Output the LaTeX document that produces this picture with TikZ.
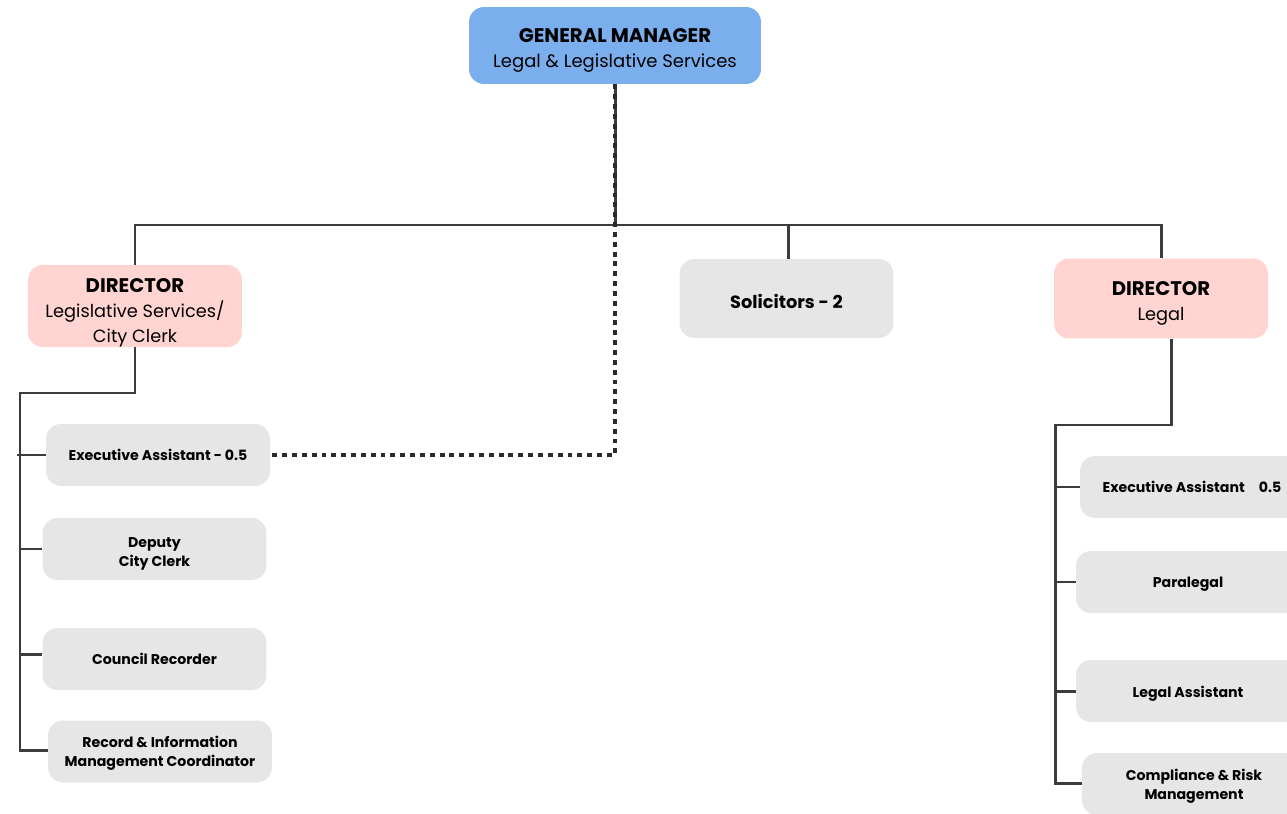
\documentclass[tikz,border=0pt]{standalone}
\usepackage{fontspec}
\setmainfont{Poppins}
\definecolor{gmblue}{HTML}{7BAEEC}
\definecolor{dirpink}{HTML}{FFD4D1}
\definecolor{staffgray}{HTML}{E6E6E6}
\definecolor{wiregray}{HTML}{3C3C3C}
% strut that pushes a label down inside its box
\newcommand{\dropby}[1]{\rule{0pt}{#1}}
\newcommand{\headline}[1]{{\fontsize{11.2}{14.2}\selectfont\bfseries #1}}

\begin{document}
\begin{tikzpicture}[x=0.02cm,y=-0.02cm,
  every node/.style={inner sep=0pt,align=center,text=black},
  box/.style={rounded corners=0.3cm},
  gmbox/.style={box,fill=gmblue,minimum width=5.84cm,minimum height=1.54cm,
    font=\fontsize{10.25}{14.2}\selectfont},
  dirbox/.style={box,fill=dirpink,minimum width=4.28cm,minimum height=1.6cm,
    font=\fontsize{10.1}{14.2}\selectfont},
  solbox/.style={box,fill=staffgray,minimum width=4.28cm,minimum height=1.58cm,
    font=\fontsize{10.1}{14.2}\selectfont\bfseries},
  staffbox/.style={box,fill=staffgray,minimum width=4.48cm,minimum height=1.24cm,
    font=\fontsize{8.05}{10.8}\selectfont\bfseries},
  wire/.style={draw=wiregray,line width=1.7pt},
  dotwire/.style={draw=wiregray!70!black,line width=1.9pt,dash pattern=on 2.8pt off 2.8pt}]
  \useasboundingbox (0,0) rectangle (1287,814);
  \clip (0,0) rectangle (1287,814);

  % top
  \node[gmbox] (gm) at (615,45.5) {\dropby{14pt}\headline{GENERAL MANAGER}\\Legal \& Legislative Services};

  % second row
  \node[dirbox] (dirls) at (135,306) {\dropby{15.8pt}\headline{DIRECTOR}\\Legislative Services/\\City Clerk};
  \node[solbox] (sol) at (786.5,298.5) {\dropby{10.9pt}Solicitors - 2};
  \node[dirbox] (dirlg) at (1161,298.5) {\dropby{13.4pt}\headline{DIRECTOR}\\Legal};

  % legislative services staff
  \node[staffbox] (ea1) at (158,455) {Executive Assistant - 0.5};
  \node[staffbox] (dcc) at (154.5,549) {\dropby{11.2pt}Deputy\\City Clerk};
  \node[staffbox] (crec) at (154.5,659) {Council Recorder};
  \node[staffbox] (rim) at (160,751.5) {\dropby{8.6pt}Record \& Information\\Management Coordinator};

  % legal staff
  \node[staffbox] (ea2) at (1192,487) {Executive Assistant\quad 0.5};
  \node[staffbox] (para) at (1188,582) {\dropby{8.8pt}Paralegal};
  \node[staffbox] (lasst) at (1188,691) {\dropby{9.4pt}Legal Assistant};
  \node[staffbox] (crm) at (1194,784) {\dropby{8.6pt}Compliance \& Risk\\Management};

  % bus
  \coordinate (busL) at (135,225);
  \coordinate (busR) at (1161,225);
  \draw[wire] (gm.south) -- (gm.south |- busL);
  \draw[wire] (dirls.north) |- (busR) -- (dirlg.north);
  \draw[wire] ([xshift=0.03cm]sol.north) -- ([xshift=0.03cm]sol.north |- busL);

  % left tree
  \coordinate (ltop) at (20,393);
  \coordinate (lend) at (20,750);
  \draw[wire] (dirls.south) |- (ltop) -- (lend) -- (lend -| rim.west);
  \draw[wire] ([xshift=-0.06cm]ltop |- ea1.west) -- (ea1.west);
  \draw[wire] (ltop |- dcc.west) -- (dcc.west);
  \draw[wire] ([yshift=0.1cm]ltop |- crec.west) -- ([yshift=0.1cm]crec.west);

  % right tree
  \coordinate (rtop) at (1055,425);
  \coordinate (rend) at (1055,783);
  \draw[wire] ([xshift=0.2cm]dirlg.south) |- (rtop) -- (rend) -- (rend -| crm.west);
  \draw[wire] (rtop |- ea2.west) -- (ea2.west);
  \draw[wire] (rtop |- para.west) -- (para.west);
  \draw[wire] (rtop |- lasst.west) -- (lasst.west);

  % dotted reporting line
  \draw[dotwire] (gm.south) |- (ea1.east);
\end{tikzpicture}
\end{document}
